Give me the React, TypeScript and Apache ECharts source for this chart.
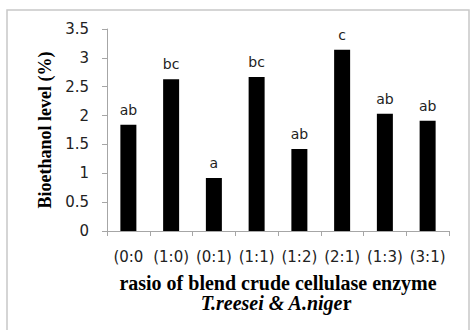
import React, { useEffect, useRef } from "react";
import * as echarts from "echarts";

const categories = ["(0:0", "(1:0)", "(0:1)", "(1:1)", "(1:2)", "(2:1)", "(1:3)", "(3:1)"];
const values = [1.84, 2.63, 0.92, 2.67, 1.42, 3.14, 2.03, 1.91];
const letters = ["ab", "bc", "a", "bc", "ab", "c", "ab", "ab"];

export default function App() {
  const ref = useRef<HTMLDivElement>(null);
  useEffect(() => {
    const chart = echarts.init(ref.current!, null, { renderer: "svg" });
    chart.setOption({
      animation: false,
      backgroundColor: "#ffffff",
      grid: { left: 107, right: 23, top: 29, bottom: 99 },
      graphic: [
        {
          type: "rect",
          shape: { x: 7, y: 10, width: 462, height: 340 },
          style: { fill: "none", stroke: "#c8c8c8", lineWidth: 1.5 },
          silent: true,
        },
        {
          type: "text",
          x: 276,
          y: 303,
          style: {
            text: "{i|T.reesei & A.nige}{n|r}",
            textAlign: "center",
            textVerticalAlign: "middle",
            rich: {
              i: {
                fontFamily: "Liberation Serif",
                fontStyle: "italic",
                fontWeight: "bold",
                fontSize: 20,
                fill: "#000",
              },
              n: {
                fontFamily: "Liberation Serif",
                fontWeight: "bold",
                fontSize: 20,
                fill: "#000",
              },
            },
          },
        },
      ],
      xAxis: {
        type: "category",
        data: categories,
        name: "rasio of blend crude cellulase enzyme",
        nameLocation: "middle",
        nameGap: 42,
        nameTextStyle: {
          fontFamily: "Liberation Serif",
          fontWeight: "bold",
          fontSize: 20,
          color: "#000",
        },
        axisLine: { lineStyle: { color: "#a6a6a6", width: 1 } },
        axisTick: { show: true, length: 5, lineStyle: { color: "#a6a6a6" } },
        axisLabel: {
          color: "#222",
          fontFamily: "DejaVu Sans",
          fontSize: 15,
          margin: 18,
          interval: 0,
        },
      },
      yAxis: {
        type: "value",
        min: 0,
        max: 3.5,
        interval: 0.5,
        name: "Bioethanol level (%)",
        nameLocation: "middle",
        nameGap: 53,
        nameTextStyle: {
          fontFamily: "Liberation Serif",
          fontWeight: "bold",
          fontSize: 18,
          color: "#000",
        },
        splitLine: { show: false },
        axisLine: { show: true, lineStyle: { color: "#a6a6a6", width: 1 } },
        axisTick: { show: true, length: 5, lineStyle: { color: "#a6a6a6" } },
        axisLabel: {
          color: "#222",
          fontFamily: "DejaVu Sans",
          fontSize: 15,
          margin: 18,
        },
      },
      series: [
        {
          type: "bar",
          data: values,
          barWidth: 16,
          itemStyle: { color: "#000000" },
          label: {
            show: true,
            position: "top",
            distance: 8,
            formatter: (p: any) => letters[p.dataIndex],
            color: "#222",
            fontFamily: "DejaVu Sans",
            fontSize: 14,
          },
        },
      ],
    });
    return () => chart.dispose();
  }, []);
  return (
    <div
      ref={ref}
      style={{ position: "fixed", left: 0, top: 0, width: 472, height: 330 }}
    />
  );
}
